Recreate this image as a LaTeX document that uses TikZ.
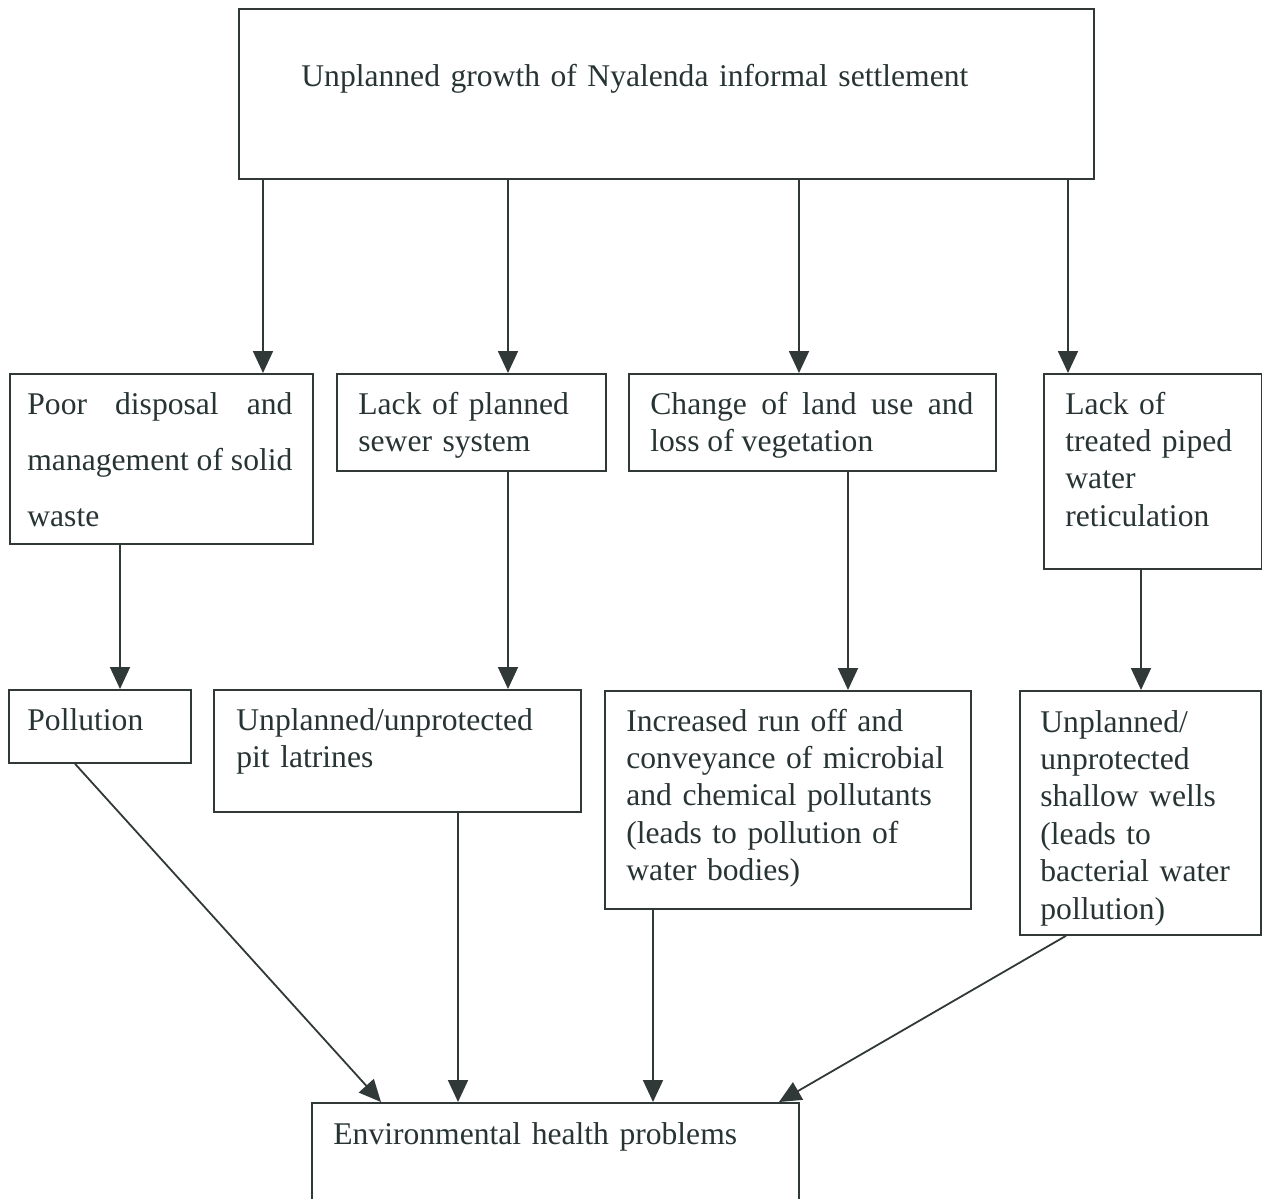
\documentclass[tikz,border=0pt]{standalone}
\usepackage{fontspec}
\setmainfont{Liberation Serif}
\usetikzlibrary{calc, positioning, arrows.meta}
\definecolor{ink}{RGB}{40,52,52}
\definecolor{edgec}{RGB}{48,56,56}
\tikzset{
  flow box/.style={draw=edgec, line width=0.9pt, rectangle, inner sep=0, anchor=north west,},
  flow text/.style={text=ink, inner sep=0, anchor=base west, align=left, font=\fontsize{15.8}{18.7}\selectfont,},
  flow arrow/.style={edgec, line width=0.9pt, -{Triangle[width=10pt, length=11pt]},}
}

\begin{document}
\begin{tikzpicture}[x=0.5pt, y=-0.5pt]
\useasboundingbox (0,0) rectangle (1262,1198);

% boxes
\node[flow box, minimum width=427.5pt, minimum height=85pt] (top) at (238,8) {};
\node[flow box, minimum width=151.5pt, minimum height=85pt] (b1) at (9,373) {};
\node[flow box, minimum width=134.5pt, minimum height=48.5pt] (b2) at (336,373) {};
\node[flow box, minimum width=183.5pt, minimum height=48.5pt] (b3) at (628,373) {};
\node[flow box, minimum width=109pt, minimum height=97.5pt] (b4) at (1043,373) {};
\node[flow box, minimum width=91pt, minimum height=36.5pt] (c1) at (8,689) {};
\node[flow box, minimum width=183.5pt, minimum height=61pt] (c2) at (213,689) {};
\node[flow box, minimum width=183pt, minimum height=109pt] (c3) at (604,690) {};
\node[flow box, minimum width=120.5pt, minimum height=122pt] (c4) at (1019,690) {};
\node[flow box, minimum width=243.5pt, minimum height=52pt] (env) at (311,1102) {};

% texts
\node[flow text, text width=400pt] (topt) at ($(top.north west)+(63,79)$) {Unplanned growth of Nyalenda informal settlement};
\node[flow text, text width=132.5pt, align=justify, font=\fontsize{15.8}{28}\selectfont] (b1t) at ($(b1.north west)+(18,41)$) {Poor disposal and\linebreak management of solid\linebreak waste};
\node[flow text, text width=110pt] (b2t) at ($(b2.north west)+(22,41)$) {Lack of planned\\sewer system};
\node[flow text, text width=161.5pt, align=justify] (b3t) at ($(b3.north west)+(22,41)$) {Change of land use and\linebreak loss of vegetation};
\node[flow text, text width=95pt] (b4t) at ($(b4.north west)+(22,41)$) {Lack of\\treated piped\\water\\reticulation};
\node[flow text, text width=80pt] (c1t) at ($(c1.north west)+(19,41)$) {Pollution};
\node[flow text, text width=165pt] (c2t) at ($(c2.north west)+(23,41)$) {Unplanned/unprotected\\pit latrines};
\node[flow text, text width=165pt] (c3t) at ($(c3.north west)+(22,41)$) {Increased run off and\\conveyance of microbial\\and chemical pollutants\\(leads to pollution of\\water bodies)};
\node[flow text, text width=105pt] (c4t) at ($(c4.north west)+(21,42)$) {Unplanned/\\unprotected\\shallow wells\\(leads to\\bacterial water\\pollution)};
\node[flow text, text width=220pt] (envt) at ($(env.north west)+(22,42)$) {Environmental health problems};

% arrow ends
\coordinate (a1) at ($(b1.north west)+(254,0)$);
\coordinate (a2) at ($(b2.north west)+(172,0)$);
\coordinate (a3) at ($(b3.north west)+(171,0)$);
\coordinate (a4) at ($(b4.north west)+(25,0)$);
\coordinate (d1) at ($(c1.north west)+(112,0)$);
\coordinate (d2) at ($(c2.north west)+(295,0)$);
\coordinate (d3) at ($(c3.north west)+(244,0)$);
\coordinate (d4) at ($(c4.north west)+(122,0)$);
\coordinate (s1) at ($(c1.south west)+(67,0)$);
\coordinate (s4) at ($(c4.south west)+(47,0)$);
\coordinate (e1) at ($(env.north west)+(70,0)$);
\coordinate (e2) at ($(env.north west)+(147,0)$);
\coordinate (e3) at ($(env.north west)+(342,0)$);
\coordinate (e4) at ($(env.north west)+(468,0)$);

% arrows
\draw[flow arrow] (top.south -| a1) -- (a1);
\draw[flow arrow] (top.south -| a2) -- (a2);
\draw[flow arrow] (top.south -| a3) -- (a3);
\draw[flow arrow] (top.south -| a4) -- (a4);
\draw[flow arrow] (b1.south -| d1) -- (d1);
\draw[flow arrow] (b2.south -| d2) -- (d2);
\draw[flow arrow] (b3.south -| d3) -- (d3);
\draw[flow arrow] (b4.south -| d4) -- (d4);
\draw[flow arrow] (s1) -- (e1);
\draw[flow arrow] (c2.south -| e2) -- (e2);
\draw[flow arrow] (c3.south -| e3) -- (e3);
\draw[flow arrow] (s4) -- (e4);

\end{tikzpicture}
\end{document}
